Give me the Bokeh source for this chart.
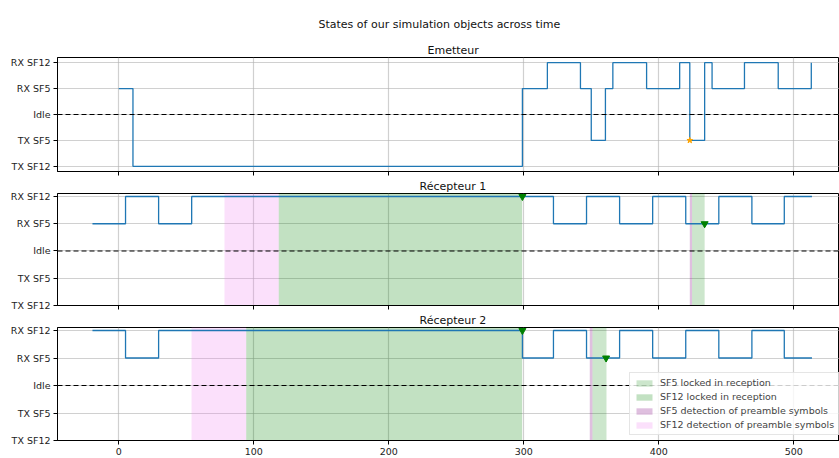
from bokeh.plotting import figure
from bokeh.layouts import column
from bokeh.models import FixedTicker, Span, Title, Legend, LegendItem, Range1d
from bokeh.embed import file_html
from bokeh.resources import INLINE

# ---- data ----
state_ticks = [-2, -1, 0, 1, 2]
state_labels = ["TX SF12", "TX SF5", "Idle", "RX SF5", "RX SF12"]
x_ticks = [0, 100, 200, 300, 400, 500]

em_t = [0, 10.5, 299, 317.5, 342, 350, 360.5, 366, 391, 415.5, 423, 434, 439.5, 463.5, 488.5, 513]
em_s = [1, -2, 1, 2, 1, -1, 1, 2, 1, 2, -1, 2, 1, 2, 1, 2]
em_mark_t = [423]
em_mark_s = [-1]

r1_t = [-19.5, 5, 29.5, 54, 322, 346.5, 371, 395.5, 420, 444.5, 469, 493, 513.5]
r1_s = [1, 2, 1, 2, 1, 2, 1, 2, 1, 2, 1, 2, 2]
r1_mark_t = [299, 434]
r1_mark_s = [2, 1]
r1_sf5_lock = [(424.7, 434)]
r1_sf12_lock = [(118.5, 298.8)]
r1_sf5_det = [(423, 424.7)]
r1_sf12_det = [(78.3, 118.5)]

r2_t = [-19.5, 5, 29.5, 299, 322, 346.5, 371, 395.5, 420, 444.5, 469, 493, 513.5]
r2_s = [2, 1, 2, 1, 2, 1, 2, 1, 2, 1, 2, 1, 1]
r2_mark_t = [299, 361]
r2_mark_s = [2, 1]
r2_sf5_lock = [(350.9, 361.3)]
r2_sf12_lock = [(94.4, 298.8)]
r2_sf5_det = [(348.9, 350.9)]
r2_sf12_det = [(53.9, 94.4)]

suptitle = "States of our simulation objects across time"
titles = ["Emetteur", "Récepteur 1", "Récepteur 2"]
legend_labels = ["SF5 locked in reception", "SF12 locked in reception",
                 "SF5 detection of preamble symbols", "SF12 detection of preamble symbols"]

FONT = "DejaVu Sans"
W = 839
XSTART, XEND = -45.4, 533.9


def make_fig(height, btop, bbot, ystart, yend, labels_x):
    p = figure(width=W, height=height, output_backend="svg", toolbar_location=None,
               x_range=Range1d(XSTART, XEND), y_range=Range1d(ystart, yend),
               min_border_left=57, min_border_right=0, min_border_top=btop,
               min_border_bottom=bbot, title=None)
    p.outline_line_color = "black"
    p.outline_line_width = 1
    p.background_fill_color = "white"
    p.border_fill_color = "white"
    for ax in (p.xaxis[0], p.yaxis[0]):
        ax.axis_line_color = "black"
        ax.axis_line_width = 1
        ax.major_tick_line_color = "black"
        ax.major_tick_out = 4
        ax.major_tick_in = 0
        ax.minor_tick_line_color = None
        ax.major_label_text_font = FONT
        ax.major_label_text_font_size = "9.5px"
        ax.major_label_text_color = "#222222"
        ax.major_label_standoff = 3
    p.xaxis.ticker = FixedTicker(ticks=x_ticks)
    p.yaxis.ticker = FixedTicker(ticks=state_ticks)
    p.yaxis.major_label_overrides = {t: l for t, l in zip(state_ticks, state_labels)}
    if not labels_x:
        p.xaxis.major_label_overrides = {t: "" for t in x_ticks}
        p.xaxis.major_label_text_font_size = "0px"
        p.xaxis.major_label_standoff = 0
    p.xgrid.ticker = FixedTicker(ticks=x_ticks)
    p.ygrid.ticker = FixedTicker(ticks=state_ticks)
    for g in (p.xgrid[0], p.ygrid[0]):
        g.grid_line_color = "#b0b0b0"
        g.grid_line_alpha = 0.6
        g.grid_line_width = 1.2
    return p


def add_title(p, text, offset, standoff):
    t = Title(text=text, align="left", offset=offset, text_font=FONT,
              text_font_size="11px", text_font_style="normal", text_color="#111111",
              standoff=standoff)
    p.add_layout(t, "above")


def add_spans(p, spans, color, alpha):
    lefts = [a for a, b in spans]
    rights = [b for a, b in spans]
    return p.quad(left=lefts, right=rights, bottom=-5, top=5,
                  fill_color=color, fill_alpha=alpha, line_color=None)


def idle_line(p):
    p.add_layout(Span(location=0, dimension="width", line_color="black",
                      line_dash="5 3", line_width=1.2))


LINE = "#1f77b4"

# ---- Emetteur ----
p1 = make_fig(177, 57, 6, -2.2, 2.2, False)
add_title(p1, titles[0], 370, 1)
add_title(p1, suptitle, 261, 22)
idle_line(p1)
p1.step(em_t, em_s, mode="after", line_color=LINE, line_width=1.3)
p1.scatter(em_mark_t, em_mark_s, marker="star", size=6, color="orange")

# ---- Récepteur 1 ----
p2 = make_fig(134, 15, 6, -2.0, 2.11, False)
add_title(p2, titles[1], 362, 1)
add_spans(p2, r1_sf12_det, "violet", 0.25)
add_spans(p2, r1_sf12_lock, "green", 0.24)
add_spans(p2, r1_sf5_det, "purple", 0.25)
add_spans(p2, r1_sf5_lock, "green", 0.2)
idle_line(p2)
p2.step(r1_t, r1_s, mode="after", line_color=LINE, line_width=1.3)
p2.scatter(r1_mark_t, r1_mark_s, marker="inverted_triangle", size=7, color="green")

# ---- Récepteur 2 ----
p3 = make_fig(146, 16, 17, -2.0, 2.11, True)
add_title(p3, titles[2], 362, 1)
g12d = add_spans(p3, r2_sf12_det, "violet", 0.25)
g12l = add_spans(p3, r2_sf12_lock, "green", 0.24)
g5d = add_spans(p3, r2_sf5_det, "purple", 0.25)
g5l = add_spans(p3, r2_sf5_lock, "green", 0.2)
idle_line(p3)
p3.step(r2_t, r2_s, mode="after", line_color=LINE, line_width=1.3)
p3.scatter(r2_mark_t, r2_mark_s, marker="inverted_triangle", size=7, color="green")

legend = Legend(items=[LegendItem(label=legend_labels[0], renderers=[g5l]),
                       LegendItem(label=legend_labels[1], renderers=[g12l]),
                       LegendItem(label=legend_labels[2], renderers=[g5d]),
                       LegendItem(label=legend_labels[3], renderers=[g12d])],
                location=(572, 5), label_text_font=FONT, label_text_font_size="9.5px",
                glyph_width=20, glyph_height=8, label_height=9, spacing=3,
                padding=4, margin=0, border_line_color="#cccccc",
                background_fill_alpha=0.8, label_standoff=6)
p3.add_layout(legend, "center")

layout = column(p1, p2, p3, spacing=0)
open("out.html", "w").write(file_html(layout, INLINE))
